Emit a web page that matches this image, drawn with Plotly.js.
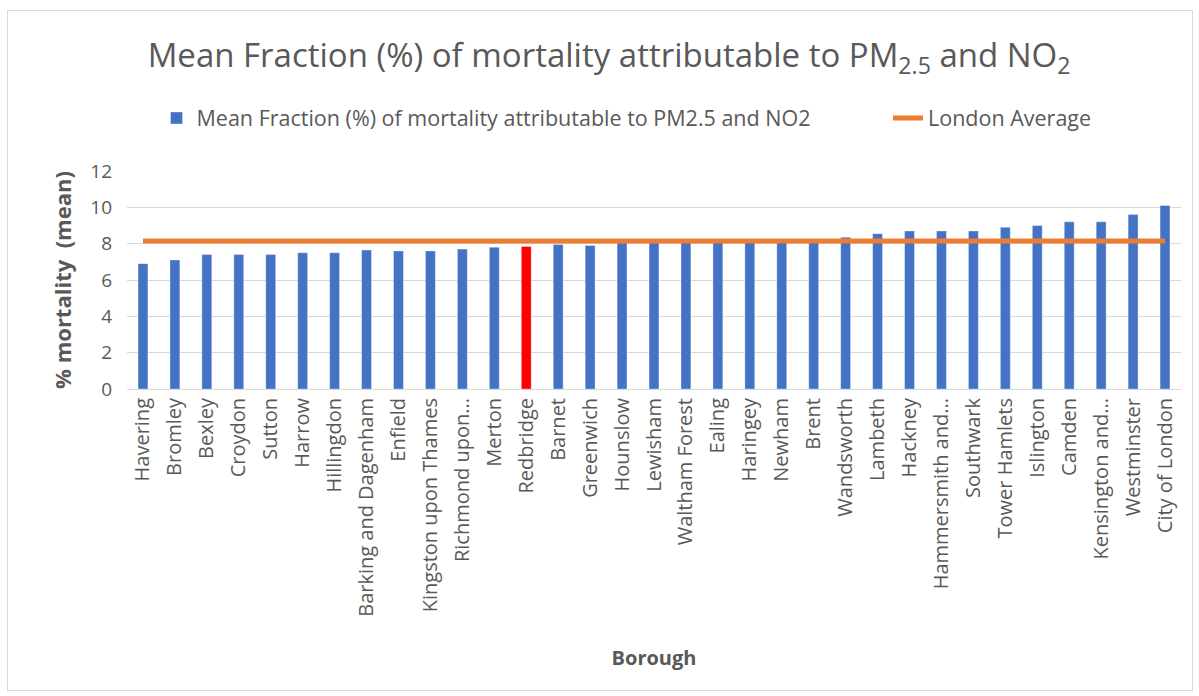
<!DOCTYPE html>
<html>
<head>
<meta charset="utf-8">
<script src="https://cdn.plot.ly/plotly-3.0.1.min.js"></script>
<style>
html,body{margin:0;padding:0;background:#fff;}
#wrap{position:relative;width:1199px;height:696px;}
#chart{width:1199px;height:696px;}
#frame{position:absolute;left:7px;top:10px;width:1184px;height:679px;border:1px solid #d9d9d9;pointer-events:none;}
</style>
</head>
<body>
<div id="wrap"><div id="chart"></div><div id="frame"></div></div>
<script>
var boroughs = ["Havering","Bromley","Bexley","Croydon","Sutton","Harrow","Hillingdon","Barking and Dagenham","Enfield","Kingston upon Thames","Richmond upon Thames","Merton","Redbridge","Barnet","Greenwich","Hounslow","Lewisham","Waltham Forest","Ealing","Haringey","Newham","Brent","Wandsworth","Lambeth","Hackney","Hammersmith and Fulham","Southwark","Tower Hamlets","Islington","Camden","Kensington and Chelsea","Westminster","City of London"];
var tickLabels = ["Havering","Bromley","Bexley","Croydon","Sutton","Harrow","Hillingdon","Barking and Dagenham","Enfield","Kingston upon Thames","Richmond upon...","Merton","Redbridge","Barnet","Greenwich","Hounslow","Lewisham","Waltham Forest","Ealing","Haringey","Newham","Brent","Wandsworth","Lambeth","Hackney","Hammersmith and...","Southwark","Tower Hamlets","Islington","Camden","Kensington and...","Westminster","City of London"];
var meanFraction = [6.9,7.1,7.4,7.4,7.4,7.5,7.5,7.65,7.6,7.6,7.7,7.8,7.85,7.95,7.9,8.05,8.05,8.1,8.1,8.1,8.1,8.1,8.35,8.55,8.7,8.7,8.7,8.9,9.0,9.2,9.2,9.6,10.1];
var londonAverage = [8.15,8.15,8.15,8.15,8.15,8.15,8.15,8.15,8.15,8.15,8.15,8.15,8.15,8.15,8.15,8.15,8.15,8.15,8.15,8.15,8.15,8.15,8.15,8.15,8.15,8.15,8.15,8.15,8.15,8.15,8.15,8.15,8.15];
var highlight = "Redbridge";

var barColors = boroughs.map(function(b){ return b === highlight ? "#ff0000" : "#4472c4"; });
var FONT = "'Open Sans', sans-serif";
var GREY = "#595959";

var traces = [
  {
    type: "bar",
    x: boroughs,
    y: meanFraction,
    name: "Mean Fraction (%) of mortality attributable to PM2.5 and NO2",
    marker: {color: barColors, line: {color: "rgba(255,255,255,0.35)", width: 1}},
    legend: "legend",
    hoverinfo: "x+y"
  },
  {
    type: "scatter",
    mode: "lines",
    x: boroughs,
    y: londonAverage,
    name: "London Average",
    line: {color: "#ed7d31", width: 5},
    legend: "legend2"
  }
];

var legendFont = {family: FONT, size: 21.5, color: GREY};
var layout = {
  width: 1199,
  height: 696,
  margin: {l: 127, r: 18, t: 171, b: 307},
  paper_bgcolor: "#fff",
  plot_bgcolor: "#fff",
  font: {family: FONT, color: GREY},
  bargap: 0.69,
  showlegend: true,
  title: {
    text: "Mean Fraction (%) of mortality attributable to PM<sub>2.5</sub> and NO<sub>2</sub>",
    font: {family: FONT, size: 33, color: GREY},
    x: 0.508, xanchor: "center",
    y: 0.92, yanchor: "middle"
  },
  legend: {
    orientation: "h",
    x: 0.028, xanchor: "left",
    y: 1.243, yanchor: "middle",
    font: legendFont,
    itemwidth: 30
  },
  legend2: {
    orientation: "h",
    x: 0.722, xanchor: "left",
    y: 1.243, yanchor: "middle",
    font: legendFont,
    itemwidth: 30
  },
  xaxis: {
    type: "category",
    tickmode: "array",
    tickvals: boroughs,
    ticktext: tickLabels,
    tickangle: -90,
    tickfont: {family: FONT, size: 20, color: GREY},
    showgrid: false,
    showline: true,
    linecolor: "#d9d9d9",
    linewidth: 1,
    ticks: "",
    automargin: false,
    title: {text: "<b>Borough</b>", font: {family: FONT, size: 20, color: GREY}, standoff: 35}
  },
  yaxis: {
    range: [0, 12],
    dtick: 2,
    tickfont: {family: FONT, size: 19, color: GREY},
    gridcolor: "#d9d9d9",
    gridwidth: 1,
    zeroline: false,
    ticks: "",
    ticklabelstandoff: 14,
    automargin: false,
    title: {text: "<b>% mortality  (mean)</b>", font: {family: FONT, size: 22, color: GREY}, standoff: 12}
  }
};

Plotly.newPlot("chart", traces, layout, {displayModeBar: false, staticPlot: true});
</script>
</body>
</html>
